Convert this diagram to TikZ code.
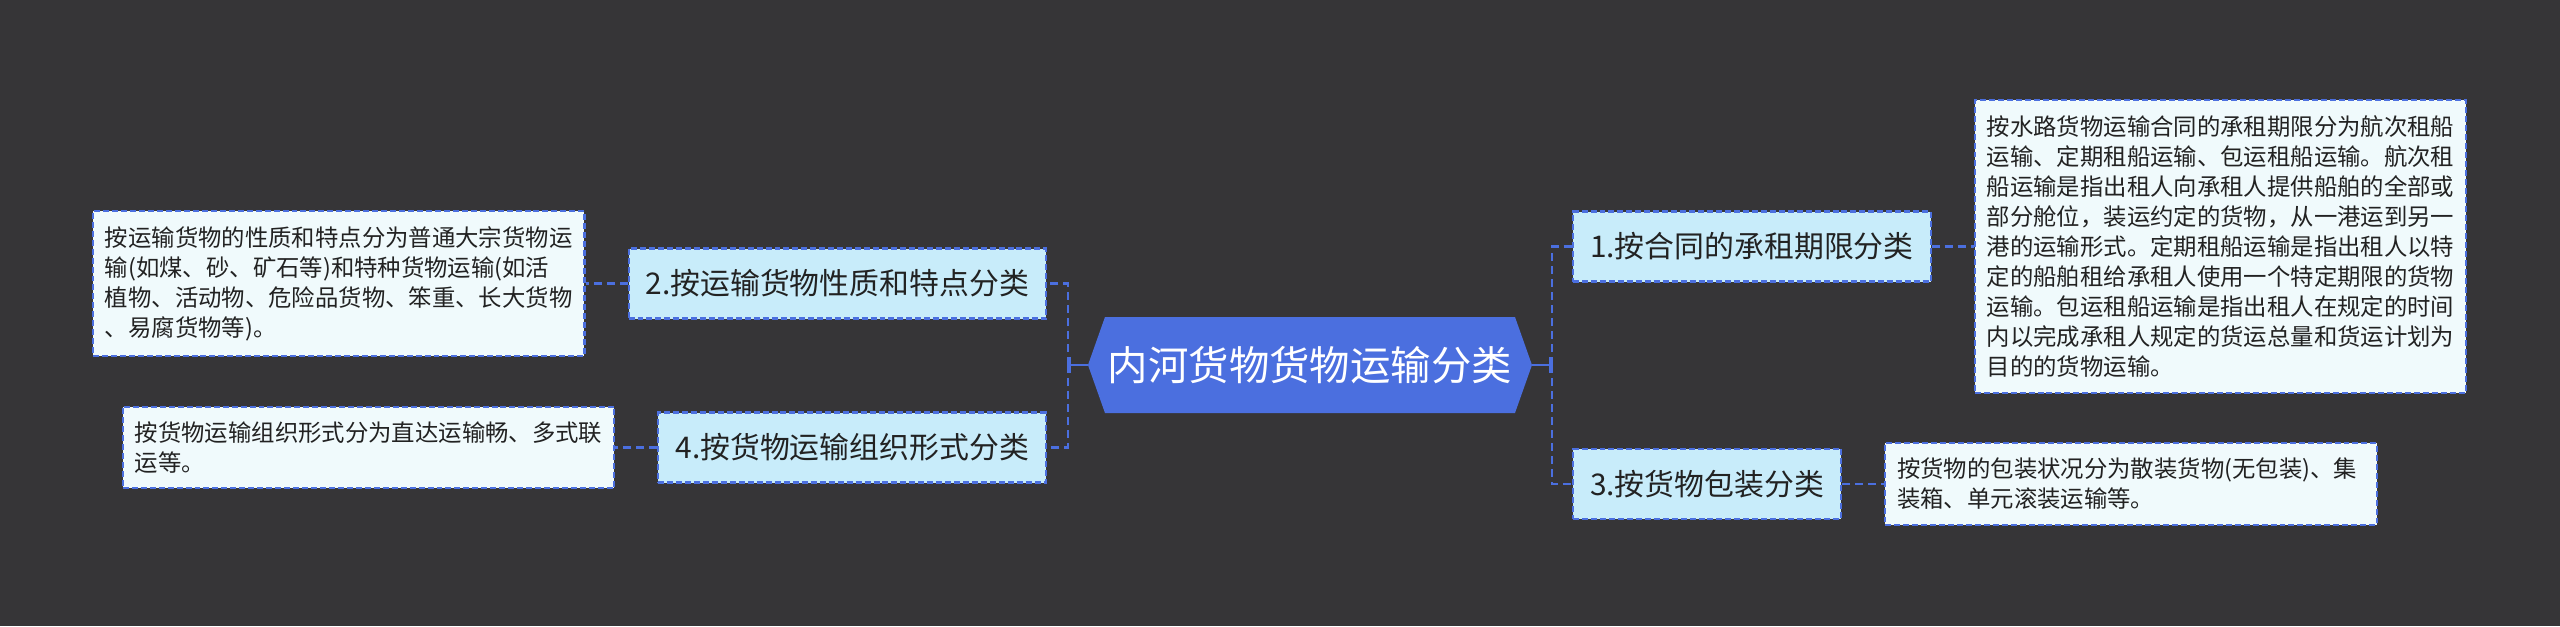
\documentclass[tikz,border=0pt]{standalone}
\usepackage{fontspec}
\setmainfont{Noto Sans CJK SC}
\usepackage{xcolor}
\usetikzlibrary{positioning,arrows.meta,shapes.symbols}

\definecolor{bgdark}{HTML}{363537}
\definecolor{mapblue}{HTML}{4B6FDF}
\definecolor{topicfill}{HTML}{C8ECFA}
\definecolor{detailfill}{HTML}{F0FAFC}
\definecolor{inkdark}{HTML}{222222}

\begin{document}
\begin{tikzpicture}[
  root/.style={
    signal,
    signal to=east and west,
    signal pointer angle=141,
    fill=mapblue,
    text=white,
    minimum width=8.88cm,
    minimum height=1.92cm,
    inner sep=0pt,
    font=\fontsize{23}{28}\selectfont
  },
  topic/.style={
    draw=mapblue,
    dash pattern=on 3.4pt off 1.7pt,
    line width=1.2pt,
    fill=topicfill,
    text=inkdark,
    minimum height=1.4cm,
    inner xsep=0.34cm,
    font=\fontsize{17}{21}\selectfont
  },
  detail/.style={
    draw=mapblue,
    dash pattern=on 3.4pt off 1.7pt,
    line width=1.2pt,
    fill=detailfill,
    text=inkdark,
    text width=9.35cm,
    align=left,
    inner xsep=0.24cm,
    inner ysep=0.3cm,
    font=\fontsize{13.3}{17.1}\selectfont
  },
  trunk/.style={draw=mapblue, line width=1.7pt, -{Bar[width=0.32cm]}},
  branch/.style={draw=mapblue, line width=1.6pt, dash pattern=on 0.16cm off 0.1cm},
  node distance=0.84cm
]
  \path[use as bounding box, fill=bgdark] (-26.2,7.3) rectangle (25.0,-5.22);

  \node[root] (root) at (0,0) {内河货物货物运输分类};
  \coordinate (rj) at (4.84,0);
  \coordinate (lj) at (-4.84,0);

  % right side
  \node[topic, anchor=west] (t1) at (5.24,2.37) {1.按合同的承租期限分类};
  \node[topic, anchor=west] (t3) at (5.24,-2.38) {3.按货物包装分类};
  \node[detail, right=of t1] (d1) {按水路货物运输合同的承租期限分为航次租船\\
    运输、定期租船运输、包运租船运输。航次租\\
    船运输是指出租人向承租人提供船舶的全部或\\
    部分舱位，装运约定的货物，从一港运到另一\\
    港的运输形式。定期租船运输是指出租人以特\\
    定的船舶租给承租人使用一个特定期限的货物\\
    运输。包运租船运输是指出租人在规定的时间\\
    内以完成承租人规定的货运总量和货运计划为\\
    目的的货物运输。};
  \node[detail, right=of t3] (d3) {按货物的包装状况分为散装货物(无包装)、集\\
    装箱、单元滚装运输等。};

  % left side
  \node[topic, anchor=east] (t2) at (-5.26,1.63) {2.按运输货物性质和特点分类};
  \node[topic, anchor=east] (t4) at (-5.26,-1.65) {4.按货物运输组织形式分类};
  \node[detail, left=of t2] (d2) {按运输货物的性质和特点分为普通大宗货物运\\
    输(如煤、砂、矿石等)和特种货物运输(如活\\
    植物、活动物、危险品货物、笨重、长大货物\\
    、易腐货物等)。};
  \node[detail, left=of t4] (d4) {按货物运输组织形式分为直达运输畅、多式联\\
    运等。};

  \draw[trunk] (root.east) -- (rj);
  \draw[trunk] (root.west) -- (lj);
  \draw[branch] (rj) |- (t1.west);
  \draw[branch] (rj) |- (t3.west);
  \draw[branch] (lj) |- (t2.east);
  \draw[branch] (lj) |- (t4.east);
  \draw[branch] (t1) -- (d1);
  \draw[branch] (t3) -- (d3);
  \draw[branch] (t2) -- (d2);
  \draw[branch] (t4) -- (d4);
\end{tikzpicture}
\end{document}
